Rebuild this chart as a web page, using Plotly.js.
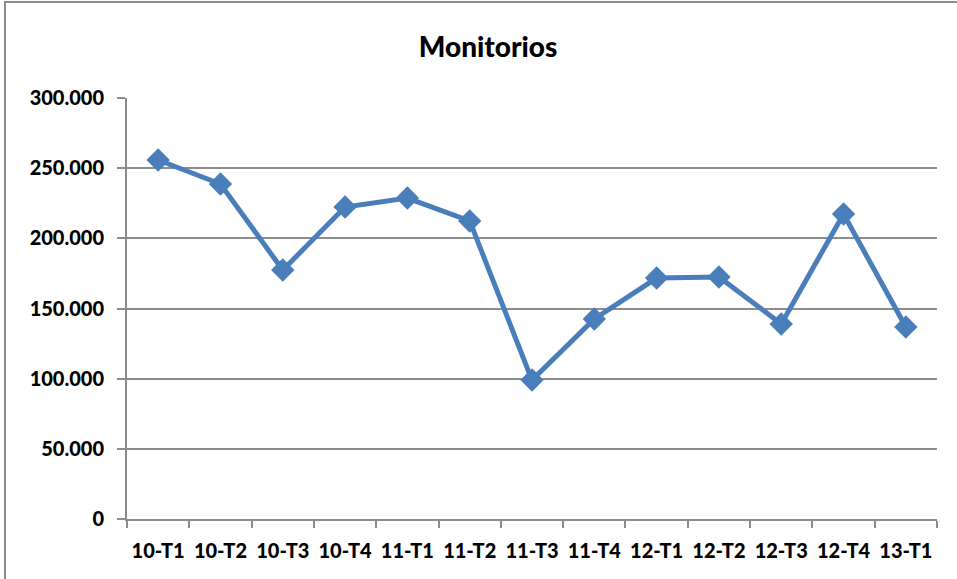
<!DOCTYPE html>
<html><head><meta charset="utf-8">
<script src="https://cdn.plot.ly/plotly-3.0.1.min.js"></script>
<style>
html,body{margin:0;padding:0;background:#fff;}
#frame{position:absolute;left:4px;top:1px;width:960px;height:590px;border:2px solid #8c8c8c;box-sizing:border-box;}
#chart{position:absolute;left:0;top:0;width:957px;height:579px;}
</style></head>
<body>
<div id="frame"></div>
<div id="chart"></div>
<script>
const categories = ["10-T1","10-T2","10-T3","10-T4","11-T1","11-T2","11-T3","11-T4","12-T1","12-T2","12-T3","12-T4","13-T1"];
const monitorios = [255800,238700,177400,222300,228700,212400,99000,142500,171700,172400,139000,217300,136800];
const yTicks = [0,50000,100000,150000,200000,250000,300000];

const fam = 'Lato, sans-serif';
const trace = {
  x: categories, y: monitorios, type: 'scatter', mode: 'lines+markers',
  line: {color: '#4a7ebb', width: 5},
  marker: {symbol: 'diamond', size: 18, color: '#4a7ebb'},
  hoverinfo: 'skip'
};
const layout = {
  width: 957, height: 579,
  paper_bgcolor: 'rgba(0,0,0,0)', plot_bgcolor: 'rgba(0,0,0,0)',
  separators: ',.',
  margin: {l: 127, r: 20, t: 98, b: 60},
  showlegend: false,
  title: {text: 'Monitorios', x: 0.51, xanchor: 'center', y: 0.918, yanchor: 'middle',
          font: {family: fam, size: 28, color: '#000', weight: 900}},
  font: {family: fam, color: '#000'},
  xaxis: {type: 'category', range: [-0.5, 12.5], tickson: 'boundaries', ticks: 'outside', ticklen: 7,
          tickcolor: '#8c8c8c', tickwidth: 2, showline: true, linecolor: '#8c8c8c', linewidth: 2,
          showgrid: false, zeroline: false, fixedrange: true, ticklabelstandoff: 13, tickangle: 0,
          tickfont: {size: 20, family: fam, weight: 900, color: '#000'}},
  yaxis: {range: [0, 300000], tickvals: yTicks, tickformat: ',d', ticks: 'outside', ticklen: 8,
          tickcolor: '#8c8c8c', tickwidth: 2, showline: true, linecolor: '#8c8c8c', linewidth: 2,
          showgrid: true, gridcolor: '#8c8c8c', gridwidth: 2, zeroline: false, fixedrange: true,
          ticklabelstandoff: 9,
          tickfont: {size: 20, family: fam, weight: 900, color: '#000'}}
};
Plotly.newPlot('chart', [trace], layout, {displayModeBar: false, staticPlot: true});
</script>
</body></html>
